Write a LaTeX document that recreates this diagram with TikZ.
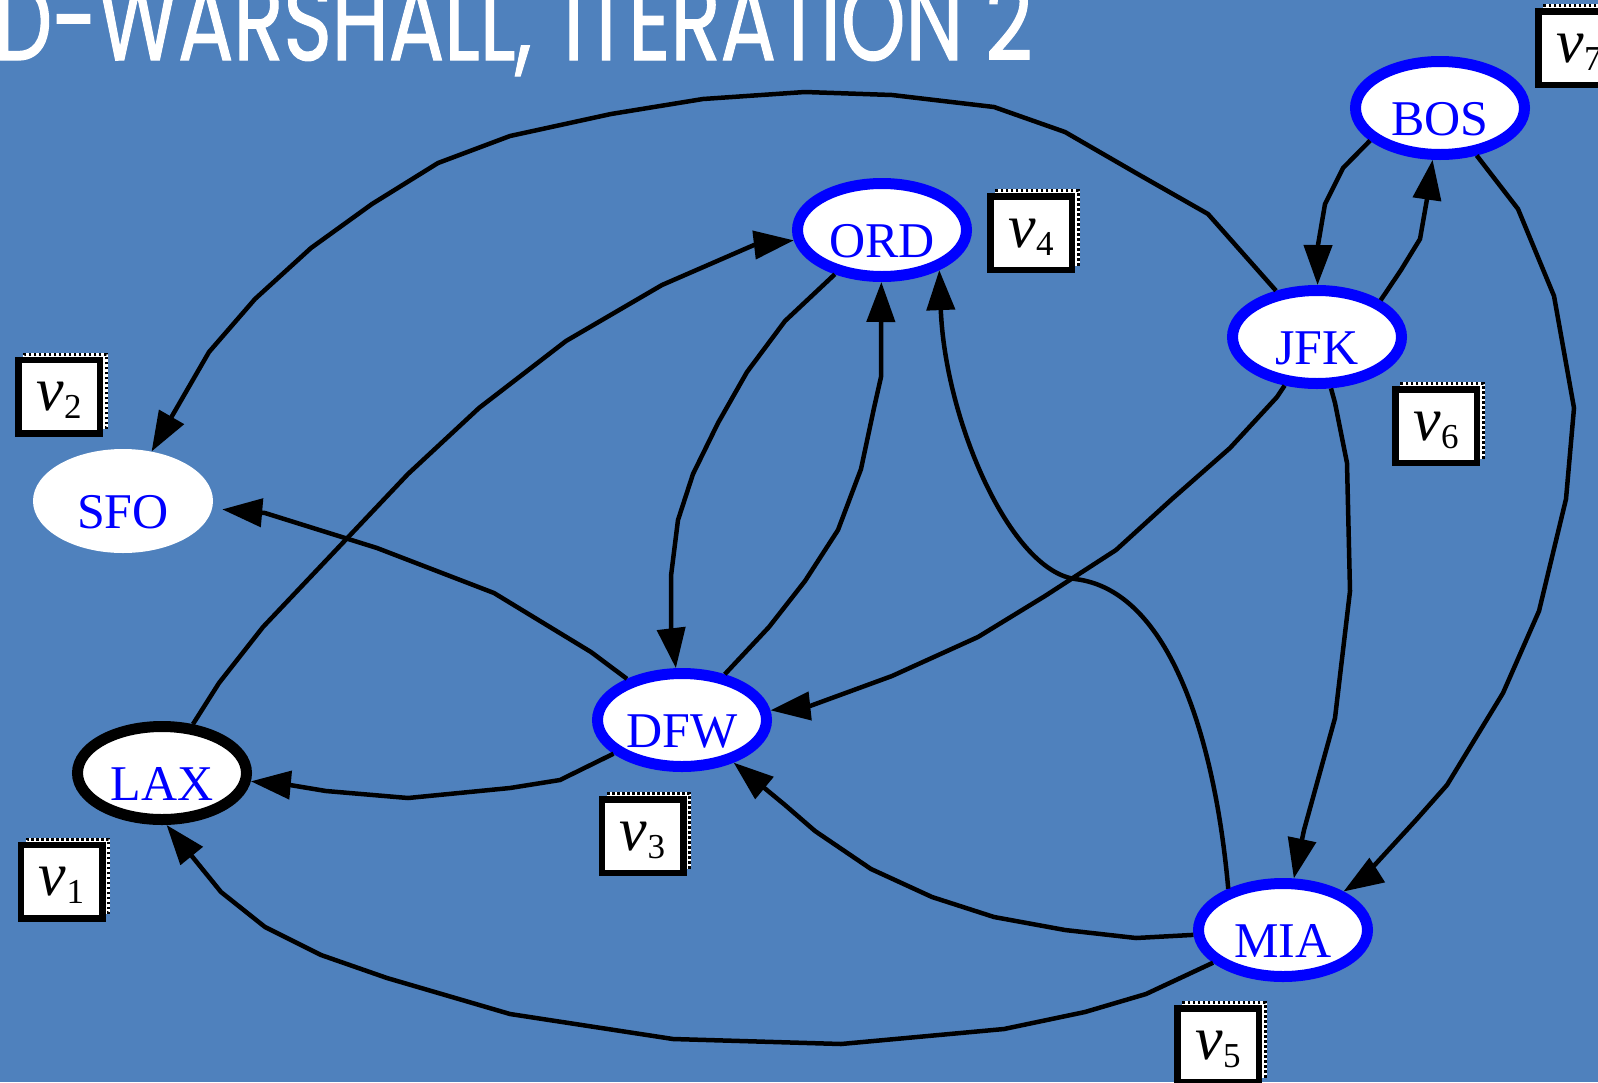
\documentclass[tikz,border=0pt]{standalone}
\usepackage{fontspec}
\setmainfont{Liberation Serif}
\newfontfamily\titlefont[FakeBold=1.2]{Poppins}
\usetikzlibrary{arrows.meta,shapes.geometric,shadows}
\definecolor{slate}{RGB}{79,129,189}
\definecolor{cityblue}{RGB}{0,0,255}
% index label: italic v with a lowered upright digit
\newcommand\vlab[1]{{\fontsize{62}{62}\selectfont\itshape v}\raisebox{-8pt}{\fontsize{35}{35}\selectfont #1}}
\begin{document}
\begin{tikzpicture}[x=1pt,y=-1pt,
  city/.style={ellipse, draw=cityblue, line width=11pt, fill=white,
    minimum width=169pt, minimum height=93pt, inner sep=0pt,
    text=cityblue, font=\fontsize{50}{50}\selectfont,
    text height=54pt, text depth=0pt},
  start/.style={city, draw=black},
  plaincity/.style={city, draw=none, line width=0.4pt,
    minimum width=180pt, minimum height=104pt},
  vbox/.style={draw=black, line width=6.5pt, fill=white,
    minimum width=81.5pt, minimum height=73.5pt, inner sep=0pt,
    text height=30pt, text depth=2pt,
    general shadow={shadow xshift=6.5pt, shadow yshift=5.5pt,
      fill=white, draw=white, line width=3pt},
    general shadow={shadow xshift=6.5pt, shadow yshift=5.5pt,
      fill=white, draw=black, line width=3pt, dash pattern=on 2.5pt off 2.5pt}},
  flight/.style={draw=black, line width=4.5pt, line join=round,
    -{Triangle[length=40pt,width=28pt]}}]

\useasboundingbox (0,0) rectangle (1598,1082);
\fill[slate] (0,0) rectangle (1598,1082);

\node[anchor=base east, text=white, inner sep=0pt] (title) at (1033,60)
  {\scalebox{0.735}[1]{\titlefont\fontsize{112}{112}\selectfont D-WARSHALL,\hspace{0.12em} ITERATION 2}};

% airports
\node[city]      (bos) at (1440,108) {BOS};
\node[city]      (jfk) at (1317,337) {JFK};
\node[city]      (ord) at (882,230)  {ORD};
\node[city]      (dfw) at (682,720)  {DFW};
\node[city]      (mia) at (1283,930) {MIA};
\node[start]     (lax) at (162,773)  {LAX};
\node[plaincity] (sfo) at (123,501)  {SFO};

% vertex indices
\node[vbox] (v1) at (61.5,881.5) {\vlab{1}};
\node[vbox] (v2) at (59,396.5)   {\vlab{2}};
\node[vbox] (v3) at (642.5,836)  {\vlab{3}};
\node[vbox] (v4) at (1031,233)   {\vlab{4}};
\node[vbox] (v5) at (1218,1045)  {\vlab{5}};
\node[vbox] (v6) at (1436,426)   {\vlab{6}};
\node[vbox] (v7) at (1579,48)    {\vlab{7}};

% routes
\draw[flight] (jfk) -- (1208,214) -- (1136,173) -- (1065,132) -- (994,107)
  -- (892,95) -- (805,92) -- (703,99) -- (611,114) -- (510,136) -- (438,163)
  -- (372,204) -- (311,248) -- (255,299) -- (209,352) -- (sfo);
\draw[flight] (jfk.30) -- (1401,270) -- (1420,239) -- (1427,199) -- (bos);
\draw[flight] (bos.205) -- (1343,168) -- (1325,204) -- (1318,245) -- (jfk);
\draw[flight] (bos) -- (1518,209) -- (1554,296) -- (1574,408) -- (1566,499)
  -- (1539,611) -- (1503,693) -- (1447,785) -- (1416,820) -- (1360,881) -- (mia);
\draw[flight] (jfk) -- (1335,403) -- (1347,463) -- (1350,591) -- (1335,718)
  -- (1304,830) -- (mia);
\draw[flight] (jfk) -- (1277,397) -- (1230,448) -- (1172,499) -- (1116,550)
  -- (1045,596) -- (978,637) -- (892,676) -- (810,706) -- (dfw);
\draw[flight] (mia.143) .. controls (1215,740) and (1170,590) .. (1075,579)
  .. controls (1010,570) and (945,420) .. (ord.-35);
\draw[flight] (mia) -- (1136,938) -- (1065,930) -- (994,917) -- (932,897)
  -- (871,869) -- (815,831) -- (785,805) -- (dfw);
\draw[flight] (mia) -- (1146,994) -- (1085,1012) -- (1004,1029) -- (841,1044)
  -- (673,1039) -- (510,1014) -- (387,978) -- (321,955) -- (265,927)
  -- (221,892) -- (lax.-85);
\draw[flight] (dfw) -- (769,627) -- (805,581) -- (838,530) -- (861,469)
  -- (874,408) -- (881,377) -- (881,311) -- (ord);
\draw[flight] (ord) -- (785,321) -- (747,372) -- (718,423) -- (693,474)
  -- (678,520) -- (671,576) -- (671,627) -- (dfw);
\draw[flight] (lax) -- (219,683) -- (263,627) -- (336,550) -- (408,474)
  -- (479,408) -- (566,341) -- (662,285) -- (754,245) -- (ord);
\draw[flight, shorten >=10pt] (dfw) -- (591,652) -- (494,593) -- (377,548)
  -- (265,513) -- (sfo);
\draw[flight] (dfw) -- (560,780) -- (510,788) -- (408,798) -- (326,791)
  -- (290,785) -- (lax);
\end{tikzpicture}
\end{document}
